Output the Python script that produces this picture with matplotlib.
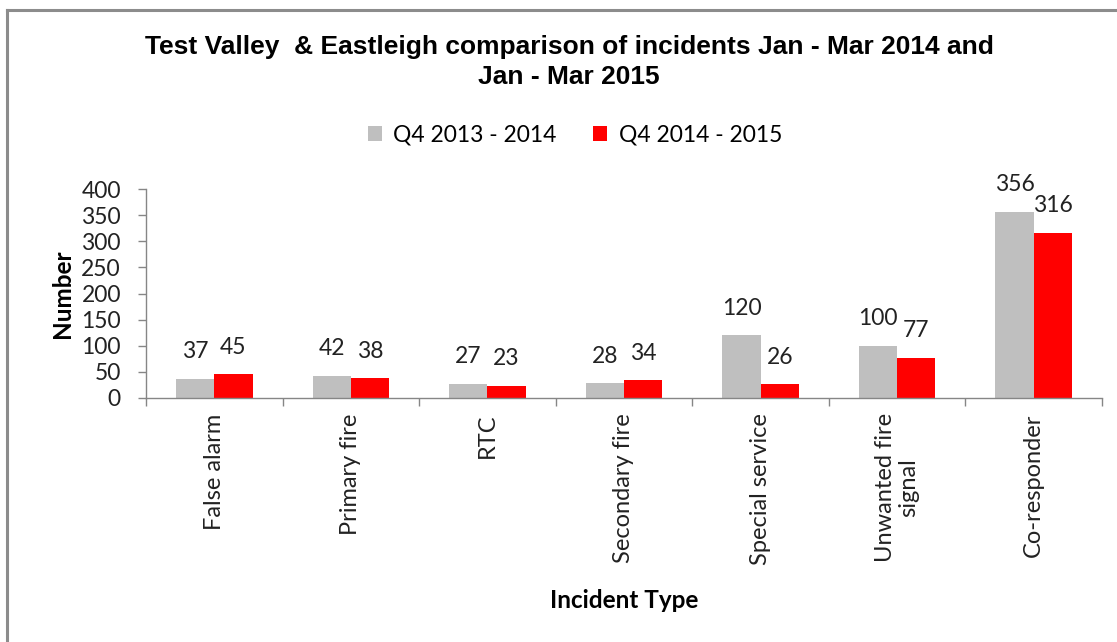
import numpy as np
import matplotlib
matplotlib.use("Agg")
import matplotlib.pyplot as plt
from matplotlib.lines import Line2D

# data
categories = ["False alarm", "Primary fire", "RTC", "Secondary fire",
              "Special service", "Unwanted fire\nsignal", "Co-responder"]
q4_2013_14 = [37, 42, 27, 28, 120, 100, 356]
q4_2014_15 = [45, 38, 23, 34, 26, 77, 316]
series_names = ["Q4 2013 - 2014", "Q4 2014 - 2015"]
yticks = [0, 50, 100, 150, 200, 250, 300, 350, 400]

grey = "#BFBFBF"
red = "#FF0000"
axis_col = "#868686"
text_col = "#222222"
body_font = "Lato"

fig = plt.figure(figsize=(11.17, 6.42), dpi=100)
fig.patch.set_facecolor("white")

# outer frame (left and top edges only visible)
fig.add_artist(Line2D([7 / 1117, 7 / 1117], [0, 1 - 10 / 642], color="#8C8C8C", lw=2.2))
fig.add_artist(Line2D([7 / 1117, 1], [1 - 10 / 642, 1 - 10 / 642], color="#8C8C8C", lw=2.2))

ax = fig.add_axes([146 / 1117, 1 - 398 / 642, (1102 - 146) / 1117, (398 - 189) / 642])

x = np.arange(len(categories))
w = 0.28
b1 = ax.bar(x - w / 2, q4_2013_14, w, color=grey, label=series_names[0])
b2 = ax.bar(x + w / 2, q4_2014_15, w, color=red, label=series_names[1])

for bars, vals in ((b1, q4_2013_14), (b2, q4_2014_15)):
    for r, v in zip(bars, vals):
        ax.annotate(str(v), (r.get_x() + r.get_width() / 2, v),
                    xytext=(0, 19.5), textcoords="offset points",
                    ha="center", va="center", fontsize=16.5,
                    family=body_font, color=text_col)

ax.set_xlim(-0.5, len(categories) - 0.5)
ax.set_ylim(0, 400)
ax.set_yticks(yticks)
ax.set_yticklabels([str(t) for t in yticks], fontsize=16.5, family=body_font, color=text_col)
ax.set_xticks(x)
ax.set_xticklabels(categories, rotation=90, fontsize=17, family=body_font,
                   color=text_col, va="top", ha="center", linespacing=1.1)
ax.set_xticks(np.arange(len(categories) + 1) - 0.5, minor=True)
ax.tick_params(axis="x", which="major", length=0, pad=11)
ax.tick_params(axis="x", which="minor", length=6, color=axis_col, width=1)
ax.tick_params(axis="y", length=6, color=axis_col, width=1, pad=12)

for s in ("top", "right"):
    ax.spines[s].set_visible(False)
for s in ("left", "bottom"):
    ax.spines[s].set_color(axis_col)
    ax.spines[s].set_linewidth(1)

ax.set_ylabel("Number", fontsize=17.5, fontweight="bold", family=body_font, labelpad=5)
fig.text(624 / 1117, 1 - 600 / 642, "Incident Type", ha="center", va="center",
         fontsize=17.5, fontweight="bold", family=body_font)

fig.text(569 / 1117, 1 - 62 / 642,
         "Test Valley  & Eastleigh comparison of incidents Jan - Mar 2014 and\nJan - Mar 2015",
         ha="center", va="center", fontsize=19, fontweight="bold",
         family="Liberation Sans", linespacing=1.35)

fig.legend(handles=[b1, b2], labels=series_names, loc="center",
           bbox_to_anchor=(575 / 1117, 1 - 135 / 642), ncol=2, frameon=False,
           prop={"family": body_font, "size": 16.5}, handlelength=0.6, handleheight=0.6,
           columnspacing=1.6, handletextpad=0.5)

fig.savefig("out.png", dpi=100)
